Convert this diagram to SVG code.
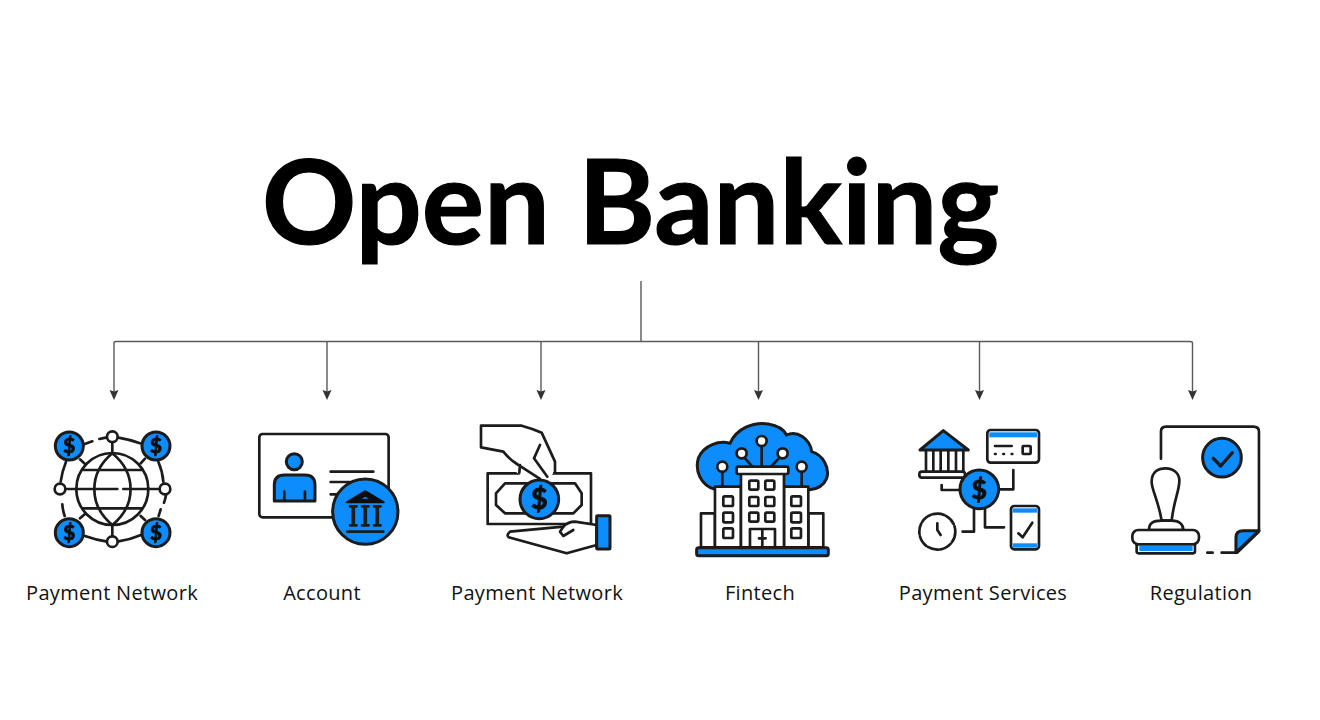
<svg xmlns="http://www.w3.org/2000/svg" width="1320" height="720" viewBox="0 0 1320 720">
<style>
.title{font-family:"Lato","Liberation Sans",sans-serif;font-weight:700;font-size:116.800px;fill:#000;stroke:#000;stroke-width:1.200px}
.lab{font-family:"Open Sans","Noto Sans",sans-serif;font-size:20px;letter-spacing:.32px;fill:#111;text-anchor:middle}
.d{font-family:"Lato","Liberation Sans",sans-serif;font-weight:700;fill:#111;stroke:#111;stroke-width:3;text-anchor:middle}
.k{fill:none;stroke:#1a1a1a;stroke-width:8;stroke-linecap:round;stroke-linejoin:round}
.b{fill:#0a8dfb;stroke:#1a1a1a;stroke-width:9;stroke-linejoin:round;stroke-linecap:round}
.s{fill:#0a8dfb;stroke:none}
.w{fill:#fff;stroke:#1a1a1a;stroke-width:8;stroke-linejoin:round;stroke-linecap:round}
.c{fill:none;stroke:#5a5a5a;stroke-width:1.400}
</style>
<defs>
<filter id="soft" x="-5%" y="-5%" width="110%" height="110%"><feGaussianBlur stdDeviation="0.4"/></filter>
</defs>
<rect width="1320" height="720" fill="#fff"/>
<text class="title" x="262" y="244">Open Banking</text>
<g id="connectors">
<path class="c" d="M641 281V341M114 392V343Q114 341.500 116 341.500H1190Q1192.500 341.500 1192.500 343V392M327 341V392M541 341V392M758.500 341V392M979.500 341V392"/>
<g fill="#333">
<path d="M109.500 390L114 391.500L118.500 390L114 400ZM322.500 390L327 391.500L331.500 390L327 400ZM536.500 390L541 391.500L545.500 390L541 400ZM754 390L758.500 391.500L763 390L758.500 400ZM975 390L979.500 391.500L984 390L979.500 400ZM1188 390L1192.500 391.500L1197 390L1192.500 400Z"/>
</g>
</g>
<g id="node-payment-network-1">
<g transform="translate(30 410) scale(.3333)" filter="url(#soft)">
<circle class="k" cx="247" cy="237" r="108"/>
<path class="k" d="M247 130C175 190 175 285 247 345C320 285 320 190 247 130ZM160 180H335M160 295H335M100 237H262M280 237H395M247 95V130M247 345V382"/>
<path class="k" d="M162 103L187 94M208 87Q220 84 232 82M262 82Q298 88 330 100M385 155Q398 185 400 215M408 255Q406 268 402 278M392 298L386 318M333 375Q298 390 262 395M232 395Q198 390 165 378M104 318Q98 300 97 283M92 215Q96 185 108 155M150 148L165 162M332 160L345 146M150 325L165 312M332 318L345 330"/>
<circle class="w" cx="247" cy="80" r="16"/><circle class="w" cx="247" cy="395" r="16"/><circle class="w" cx="90" cy="237" r="16"/><circle class="w" cx="405" cy="237" r="16"/>
<circle class="b" cx="118" cy="108" r="42"/><circle class="b" cx="378" cy="108" r="42"/><circle class="b" cx="118" cy="368" r="42"/><circle class="b" cx="378" cy="368" r="42"/>
<g font-size="62"><text class="d" x="118" y="130">$</text><text class="d" x="378" y="130">$</text><text class="d" x="118" y="390">$</text><text class="d" x="378" y="390">$</text></g>
</g>
<text class="lab" x="112" y="600">Payment Network</text>
</g>
<g id="node-account">
<g transform="translate(30 410) scale(.3333)" filter="url(#soft)">
<rect class="k" x="688" y="72" width="388" height="250" rx="10"/>
<circle class="b" cx="793" cy="155" r="24"/>
<path class="b" d="M733 273V225Q733 195 763 195H825Q855 195 855 225V273Z"/>
<path class="k" d="M763 245V270M825 245V270M902 185H1030M902 216H960M902 253H930"/>
<circle class="b" cx="1006" cy="305" r="98"/>
<path fill="#111" stroke="#111" stroke-width="5" stroke-linejoin="round" fill-rule="evenodd" d="M1006 243L1062 277H950ZM1006 257L985 269H1027Z"/>
<path class="k" style="stroke-width:11;stroke-linecap:butt" d="M970 292V345M1006 292V345M1042 292V345"/>
<path class="k" d="M960 289H980M996 289H1016M1032 289H1052M960 346H980M996 346H1016M1032 346H1052M952 365H1060"/>
</g>
<text class="lab" x="322" y="600">Account</text>
</g>
<g id="node-payment-network-2">
<g transform="translate(460 410) scale(.3333)" filter="url(#soft)">
<rect class="k" x="83" y="190" width="310" height="152"/>
<path class="k" d="M135 220H345L365 250V285L340 310H135L108 285V250Z"/>
<path class="w" style="stroke:none" d="M150 50 240 70 280 190 262 207H200L60 115V50Z"/>
<path class="k" d="M285 185V155L245 68Q215 55 185 47H63V112L130 125Q150 150 175 165L240 207M240 105L222 145L262 200M180 165L178 188"/>
<circle class="b" cx="238" cy="268" r="58"/>
<text class="d" x="238" y="298" font-size="86">$</text>
<path class="w" d="M410 345L345 335Q325 335 310 350L150 365Q138 375 146 382L320 430L410 405Z"/>
<path class="k" d="M310 350L300 365L310 378L340 360"/>
<rect class="b" x="410" y="317" width="40" height="100" rx="3"/>
</g>
<text class="lab" x="537" y="600">Payment Network</text>
</g>
<g id="node-fintech">
<g transform="translate(460 410) scale(.3333)" filter="url(#soft)">
<path class="b" d="M765 238C720 225 705 180 715 145C730 105 780 90 810 100C830 55 880 35 925 42C960 48 975 65 980 75C1010 60 1050 85 1055 125C1090 135 1110 175 1100 205C1090 230 1070 238 1045 240Z"/>
<path class="k" d="M787 186V228M856 146L877 170M905 110V168M956 146L935 168M1025 186V228"/>
<circle class="w" cx="787" cy="170" r="15"/><circle class="w" cx="845" cy="130" r="15"/><circle class="w" cx="905" cy="93" r="15"/><circle class="w" cx="968" cy="130" r="15"/><circle class="w" cx="1025" cy="170" r="15"/>
<path class="w" d="M723 412V310H765V412ZM1045 412V310H1090V412Z"/>
<rect class="w" x="765" y="230" width="78" height="182"/><rect class="w" x="972" y="230" width="73" height="182"/>
<rect class="w" x="843" y="190" width="129" height="222"/>
<rect class="w" x="830" y="170" width="155" height="22" rx="5"/>
<g>
<rect class="k" x="868" y="212" width="27" height="27" rx="4"/><rect class="k" x="916" y="212" width="27" height="27" rx="4"/>
<rect class="k" x="868" y="261" width="27" height="27" rx="4"/><rect class="k" x="916" y="261" width="27" height="27" rx="4"/>
<rect class="k" x="868" y="308" width="27" height="27" rx="4"/><rect class="k" x="916" y="308" width="27" height="27" rx="4"/>
<rect class="k" x="790" y="259" width="29" height="29" rx="4"/><rect class="k" x="790" y="308" width="29" height="29" rx="4"/><rect class="k" x="790" y="355" width="29" height="29" rx="4"/>
<rect class="k" x="994" y="259" width="29" height="29" rx="4"/><rect class="k" x="994" y="308" width="29" height="29" rx="4"/><rect class="k" x="994" y="355" width="29" height="29" rx="4"/>
</g>
<path class="k" d="M870 412V357H945V412M907 357V412M897 385H917"/>
<rect class="b" x="710" y="413" width="395" height="24" rx="6"/>
</g>
<text class="lab" x="760" y="600">Fintech</text>
</g>
<g id="node-payment-services">
<g transform="translate(900 410) scale(.3333)" filter="url(#soft)">
<path class="k" d="M78 122V182M100 122V182M122 122V182M145 122V182M168 122V182M190 122V182"/>
<path class="b" d="M60 120L130 62L205 120Z"/>
<rect class="w" x="58" y="185" width="137" height="18" rx="8"/>
<rect class="w" x="262" y="60" width="155" height="98" rx="10"/>
<rect class="s" x="268" y="67" width="143" height="15"/>
<path class="k" d="M285 108H335M285 132H287M310 132H312M335 132H337"/>
<rect class="k" x="368" y="108" width="24" height="24" rx="3"/>
<path class="k" d="M180 240H125V225M298 238H340V180M222 295V365H188M255 295V352H312"/>
<circle class="b" cx="238" cy="238" r="58"/>
<text class="d" x="238" y="266" font-size="80">$</text>
<circle class="k" cx="112" cy="365" r="54" stroke-dasharray="34 6"/>
<path class="k" d="M112 340V360L122 375"/>
<rect class="w" x="333" y="288" width="84" height="130" rx="10"/>
<rect class="s" x="338" y="295" width="74" height="13"/><rect class="s" x="338" y="400" width="74" height="13"/>
<path class="k" d="M355 370L368 382L397 338"/>
</g>
<text class="lab" x="983" y="600">Payment Services</text>
</g>
<g id="node-regulation">
<g transform="translate(900 410) scale(.3333)" filter="url(#soft)">
<path class="k" d="M783 146V65Q783 50 798 50H1060Q1077 50 1077 65V365L1012 428H965M922 428H938"/>
<path class="b" d="M1077 362H1030Q1008 362 1008 382V428Z"/>
<circle class="b" cx="966" cy="143" r="58"/>
<path class="k" style="stroke-width:10" d="M940 145L962 168L997 128"/>
<path class="w" d="M785 332C775 270 755 240 755 215C755 185 775 175 797 175C820 175 840 190 838 215C838 240 820 280 815 332Z"/>
<path class="w" d="M748 360C745 340 760 332 785 332H815C840 332 850 345 850 360Z"/>
<rect class="w" x="710" y="395" width="175" height="35" rx="6"/>
<rect class="s" x="718" y="408" width="160" height="15"/>
<rect class="w" x="697" y="360" width="200" height="43" rx="18"/>
</g>
<text class="lab" x="1201" y="600">Regulation</text>
</g>
</svg>
